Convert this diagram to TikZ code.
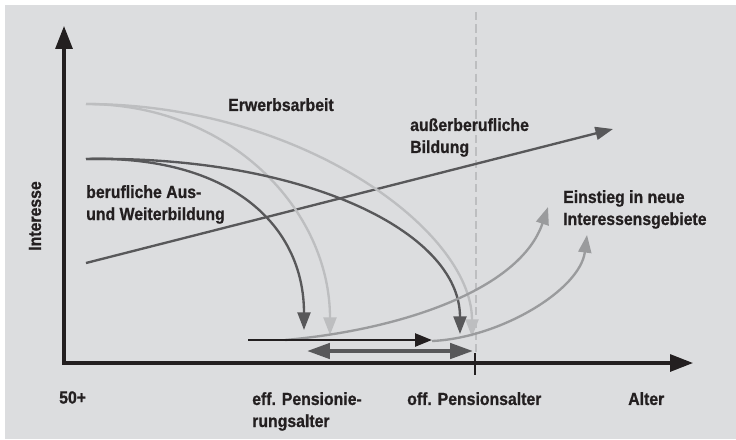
\documentclass[tikz,border=0pt]{standalone}
\usepackage{fontspec}
\setsansfont{Liberation Sans}[FakeStretch=0.9, BoldFeatures={FakeBold=0.8}]
\usetikzlibrary{arrows.meta}
\definecolor{panelgray}{HTML}{DCDDDF}
\definecolor{curvedark}{HTML}{58585A}
\definecolor{curvelight}{HTML}{BDBEC0}
\definecolor{curvemid}{HTML}{9A9B9D}
\definecolor{inkblack}{HTML}{231F20}

\begin{document}
\begin{tikzpicture}[
    x=0.03cm, y=-0.03cm,
    axis/.style={draw=inkblack, line width=2.6pt, line join=miter,
        {Triangle[length=19.6pt, width=14.5pt]}-{Triangle[length=19.6pt, width=14.5pt]}},
    curve/.style={line width=2pt, -{Triangle[length=15pt, width=11pt]}},
    retire/.style={draw=curvedark, line width=3.4pt,
        {Triangle[length=19.6pt, width=13pt]}-{Triangle[length=19.6pt, width=13pt]}},
    lbl/.style={inner sep=0pt, anchor=north west, align=left, text=inkblack,
        font=\sffamily\bfseries\fontsize{15}{18.8}\selectfont}
]

% ---- Panel ----
\useasboundingbox (0,0) rectangle (736,439);
\fill[panelgray] (5,5) rectangle (736,439);

% ---- Points ----
\coordinate (origin) at (64,363);
\coordinate (ytip) at (64,26);
\coordinate (xtip) at (693,363);
\coordinate (dashtop) at (476,12);
\coordinate (dashbot) at (476,353);
\coordinate (ticktop) at (475,353);
\coordinate (tickbot) at (475,375);
\coordinate (erwstart) at (86,104);
\coordinate (erweff) at (330,335);
\coordinate (erwoff) at (472,337);
\coordinate (berstart) at (86,159);
\coordinate (bereff) at (304,330);
\coordinate (beroff) at (460,334);
\coordinate (ausstart) at (86,263);
\coordinate (ausend) at (613,129);
\coordinate (neustarta) at (285,340);
\coordinate (neuenda) at (548,207);
\coordinate (neustartb) at (432,341);
\coordinate (neuendb) at (587,235);
\coordinate (workstart) at (248,340);
\coordinate (workend) at (432,340);
\coordinate (gapleft) at (307,351);
\coordinate (gapright) at (473,351);

% ---- Official retirement age ----
\draw[curvelight, line width=2pt, dash pattern=on 7pt off 3.5pt] (dashtop) -- (dashbot);

% ---- Axes ----
\draw[axis] (ytip) -- (origin) -- (xtip);
\draw[inkblack, line width=2.1pt] (ticktop) -- (tickbot);

% ---- Interest curves ----
\draw[curve, curvedark] (ausstart) -- (ausend);
\draw[curve, curvelight] (erwstart) .. controls (230,104) and (330,210) .. (erweff);
\draw[curve, curvelight] (erwstart) .. controls (300,104) and (472,230) .. (erwoff);
\draw[curve, curvedark] (berstart) .. controls (230,155) and (304,225) .. (bereff);
\draw[curve, curvedark] (berstart) .. controls (300,155) and (460,230) .. (beroff);
\draw[curve, curvemid] (neustarta) .. controls (400,330) and (520,290) .. (neuenda);
\draw[curve, curvemid] (neustartb) .. controls (500,338) and (580,290) .. (neuendb);

% ---- Retirement gap ----
\draw[inkblack, line width=2.4pt, -{Triangle[length=14.5pt, width=11pt]}] (workstart) -- (workend);
\draw[retire] (gapleft) -- (gapright);

% ---- Labels ----
\node[lbl] (lblerwerb) at (228,98) {Erwerbsarbeit};
\node[lbl] (lblausser) at (410,118) {außerberufliche\\Bildung};
\node[lbl] (lblberuf) at (86,185) {berufliche Aus-\\und Weiterbildung};
\node[lbl] (lblneu) at (563,190) {Einstieg in neue\\Interessensgebiete};
\node[lbl] (lblfifty) at (59,391) {50+};
\node[lbl] (lbleff) at (252,392) {eff. Pensionie-\\rungsalter};
\node[lbl] (lbloff) at (407,392) {off. Pensionsalter};
\node[lbl] (lblalter) at (628,392) {Alter};
\node[lbl, anchor=center, rotate=90] (lblinteresse) at (35,216) {Interesse};

\end{tikzpicture}
\end{document}
